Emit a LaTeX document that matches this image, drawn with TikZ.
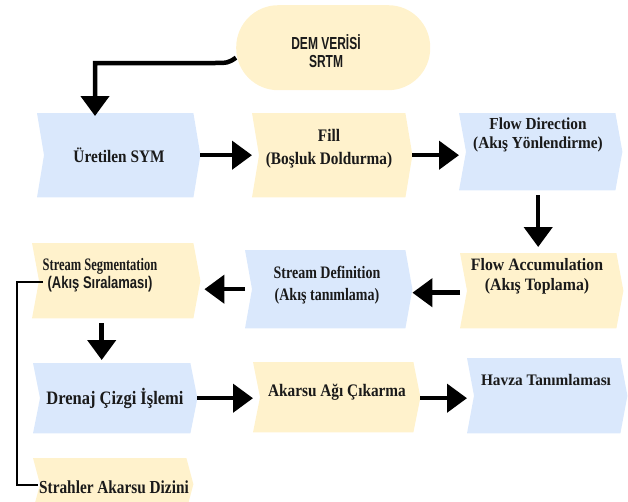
\documentclass[tikz,border=0pt]{standalone}
\usepackage{graphicx}
\usepackage{fontspec}
\setmainfont{Liberation Serif}
\newfontfamily\arialf{Liberation Sans}
\usetikzlibrary{arrows.meta}
\definecolor{bluebox}{HTML}{DAE8FC}
\definecolor{yelbox}{HTML}{FFF2CC}
\definecolor{txtc}{HTML}{1A1A1A}
\newcommand\chevfill[2]{\fill[#2] (#1.north west) -- ([xshift=-7pt]#1.north east) -- (#1.east) -- ([xshift=-7pt]#1.south east) -- (#1.south west) -- ([xshift=7pt]#1.west) -- cycle;}
\newcommand\tl[2]{\scalebox{1}[#1]{#2}}
\begin{document}
\begin{tikzpicture}[x=1pt,y=-1pt,
  box/.style={rectangle, inner sep=0pt, anchor=north west},
  txt/.style={font=\fontsize{15.3}{19}\selectfont\bfseries, text=txtc, align=center, inner sep=0pt},
  arr/.style={line width=4.5pt, -{Triangle[length=20pt,width=28pt]}},
  link/.style={line width=2.5pt, black}
]
\useasboundingbox (0,0) rectangle (628,501);
\clip (0,0) rectangle (628,501);

% boxes
\node[box, minimum width=194pt, minimum height=85pt, fill=yelbox, rounded corners=42pt] (dem) at (236,5) {};
\node[box, minimum width=163pt, minimum height=84pt] (sym) at (37,113) {};
\node[box, minimum width=160pt, minimum height=84pt] (fill) at (252,113) {};
\node[box, minimum width=163pt, minimum height=77pt] (fd) at (459,113) {};
\node[box, minimum width=163pt, minimum height=75pt] (fa) at (460,253) {};
\node[box, minimum width=167pt, minimum height=78pt] (sd) at (245,250) {};
\node[box, minimum width=168pt, minimum height=75pt] (ss) at (32,243) {};
\node[box, minimum width=164pt, minimum height=70pt] (dr) at (33,363) {};
\node[box, minimum width=167pt, minimum height=70pt] (ak) at (253,362) {};
\node[box, minimum width=160pt, minimum height=75pt] (hv) at (467,358) {};
\node[box, minimum width=160pt, minimum height=52pt] (st) at (33,458) {};

\chevfill{sym}{bluebox}
\chevfill{fill}{yelbox}
\chevfill{fd}{bluebox}
\chevfill{fa}{yelbox}
\chevfill{sd}{bluebox}
\chevfill{ss}{yelbox}
\chevfill{dr}{bluebox}
\chevfill{ak}{yelbox}
\chevfill{hv}{bluebox}
\chevfill{st}{yelbox}

% texts
\node[txt, font=\arialf\fontsize{12}{18}\selectfont\bfseries] (demT) at (326,51) {\tl{1.45}{DEM VERİSİ}\\\tl{1.45}{SRTM}};
\node[txt] (symT) at (119,155) {\tl{1.15}{Üretilen SYM}};
\node[txt, font=\fontsize{15.3}{23}\selectfont\bfseries] (fillT) at (329,149) {\tl{1.15}{Fill}\\\tl{1.15}{(Boşluk Doldurma)}};
\node[txt, font=\fontsize{15.3}{18.5}\selectfont\bfseries] (fdT) at (538,135) {\tl{1.1}{Flow Direction}\\\tl{1.1}{(Akış Yönlendirme)}};
\node[txt, font=\fontsize{15.8}{20}\selectfont\bfseries] (faT) at (537,276) {\tl{1.1}{Flow Accumulation}\\\tl{1.1}{(Akış Toplama)}};
\node[txt, font=\fontsize{14}{22}\selectfont\bfseries] (sdT) at (327,285) {\tl{1.25}{Stream Definition}\\\tl{1.25}{(Akış tanımlama)}};
\node[txt, font=\fontsize{12.5}{18}\selectfont\bfseries] (ssT) at (100,275) {\tl{1.4}{Stream Segmentation}\\{\arialf\fontsize{13}{18}\selectfont\bfseries \tl{1.3}{(Akış Sıralaması)}}};
\node[txt, font=\fontsize{16.5}{19}\selectfont\bfseries] (drT) at (115,398) {\tl{1.15}{Drenaj Çizgi İşlemi}};
\node[txt] (akT) at (337,392) {\tl{1.15}{Akarsu Ağı Çıkarma}};
\node[txt] (hvT) at (546,380) {\tl{1.05}{Havza Tanımlaması}};
\node[txt] (stT) at (114,487) {\tl{1.2}{Strahler Akarsu Dizini}};

% connectors
\coordinate (demc) at (95,63);
\draw[arr, shorten >=-3pt] ([yshift=-10pt]dem.west) .. controls (228,63) .. (212,63) -- (demc) -- (demc |- sym.north);
\draw[arr] (sym.east) -- (fill.west);
\draw[arr] (fill.east) -- (fill.east -| fd.west);
\draw[arr, shorten <=5pt, shorten >=6pt] ([xshift=-2.5pt]fd.south) -- ([xshift=-2.5pt]fd.south |- fa.north);
\draw[arr] ([yshift=-2pt]fa.west) -- ([yshift=-2pt]fa.west -| sd.east);
\draw[arr, shorten >=4pt] (sd.west) -- (sd.west -| ss.east);
\draw[arr, shorten <=5pt, shorten >=3pt] ([xshift=-14.5pt]ss.south) -- ([xshift=-14.5pt]ss.south |- dr.north);
\draw[arr] (dr.east) -- (dr.east -| ak.west);
\draw[arr] ([yshift=-1pt]ak.east) -- ([yshift=-1pt]ak.east -| hv.west);
\coordinate (bx) at (17,485);
\draw[link] ([xshift=11pt,yshift=-1.5pt]ss.west) -| (bx) -- ([xshift=5pt]bx -| st.west);
\end{tikzpicture}
\end{document}
